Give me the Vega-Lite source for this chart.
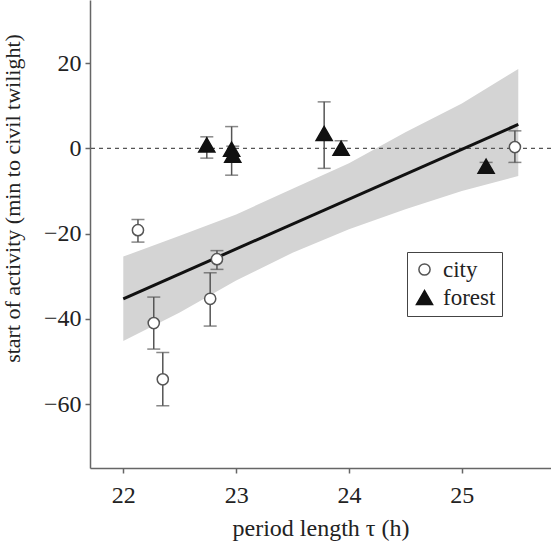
{
  "$schema": "https://vega.github.io/schema/vega-lite/v6.json",
  "autosize": {"type": "none"},
  "padding": {"left": 90, "top": 0, "right": 0, "bottom": 74},
  "width": 461,
  "height": 468,
  "background": "white",
  "config": {
    "view": {"stroke": null},
    "font": "Liberation Serif",
    "axis": {
      "labelFont": "Liberation Serif",
      "titleFont": "Liberation Serif",
      "labelFontSize": 24,
      "titleFontSize": 23,
      "titleFontWeight": "normal",
      "labelColor": "#222",
      "titleColor": "#222",
      "domainColor": "#666",
      "domainWidth": 1.5,
      "tickColor": "#666",
      "tickWidth": 1.5,
      "tickSize": 5,
      "grid": false
    }
  },
  "datasets": {
    "pts": [
      {"group": "city", "x": 22.13, "y": -19.2, "lo": -22.0, "hi": -16.7},
      {"group": "city", "x": 22.27, "y": -41.0, "lo": -47.1, "hi": -34.9},
      {"group": "city", "x": 22.35, "y": -54.2, "lo": -60.4, "hi": -47.9},
      {"group": "city", "x": 22.77, "y": -35.3, "lo": -41.7, "hi": -29.2},
      {"group": "city", "x": 22.83, "y": -26.0, "lo": -28.4, "hi": -24.0},
      {"group": "city", "x": 25.47, "y": 0.3, "lo": -3.3, "hi": 4.1},
      {"group": "forest", "x": 22.74, "y": 0.8, "lo": -2.3, "hi": 2.7},
      {"group": "forest", "x": 22.96, "y": -0.2, "lo": -6.3, "hi": 5.1},
      {"group": "forest", "x": 22.97, "y": -1.6, "lo": -3.1, "hi": 0.5},
      {"group": "forest", "x": 23.78, "y": 3.5, "lo": -4.7, "hi": 10.9},
      {"group": "forest", "x": 23.93, "y": 0.0, "lo": -1.5, "hi": 1.8},
      {"group": "forest", "x": 25.215, "y": -4.2, "lo": -5.0, "hi": -3.3}
    ],
    "band": [
      {"x": 22.0, "lo": -45.2, "hi": -25.4},
      {"x": 22.5, "lo": -38.5, "hi": -20.5},
      {"x": 23.0, "lo": -31.0, "hi": -15.5},
      {"x": 23.5, "lo": -24.5, "hi": -9.5},
      {"x": 24.0, "lo": -19.0, "hi": -3.5},
      {"x": 24.5, "lo": -14.3, "hi": 3.8},
      {"x": 25.0, "lo": -10.0, "hi": 10.5},
      {"x": 25.5, "lo": -6.5, "hi": 18.6}
    ],
    "fit": [
      {"x": 22.0, "y": -35.3},
      {"x": 25.5, "y": 5.6}
    ]
  },
  "layer": [
    {
      "data": {"name": "band"},
      "mark": {"type": "area", "color": "#d4d4d4", "opacity": 1},
      "encoding": {
        "x": {"field": "x", "type": "quantitative", "scale": {"domain": [21.705, 25.79], "nice": false, "zero": false},
          "axis": {"values": [22, 23, 24, 25], "format": "d", "title": "period length τ (h)", "titleFontSize": 24, "labelFont": "Liberation Serif", "labelPadding": 10, "titleY": 60, "titleBaseline": "middle"}},
        "y": {"field": "lo", "type": "quantitative", "scale": {"domain": [-75, 34.8], "nice": false, "zero": false},
          "axis": {"values": [-60, -40, -20, 0, 20], "format": "d", "title": "start of activity (min to civil twilight)", "titleFontSize": 22, "labelFont": "Liberation Serif", "labelPadding": 4, "titleX": -78, "titleY": 198, "titleAngle": -90, "titleBaseline": "middle", "titleAlign": "center"}},
        "y2": {"field": "hi"}
      }
    },
    {
      "data": {"values": [{"v": 0}]},
      "mark": {"type": "rule", "color": "#555", "strokeDash": [4, 4], "strokeWidth": 1.2},
      "encoding": {"y": {"field": "v", "type": "quantitative"}}
    },
    {
      "data": {"name": "fit"},
      "mark": {"type": "line", "color": "#111", "strokeWidth": 3},
      "encoding": {
        "x": {"field": "x", "type": "quantitative"},
        "y": {"field": "y", "type": "quantitative"}
      }
    },
    {
      "data": {"name": "pts"},
      "mark": {"type": "rule", "color": "#555", "strokeWidth": 1.5},
      "encoding": {
        "x": {"field": "x", "type": "quantitative"},
        "y": {"field": "lo", "type": "quantitative"},
        "y2": {"field": "hi"}
      }
    },
    {
      "data": {"name": "pts"},
      "mark": {"type": "tick", "orient": "horizontal", "color": "#555", "size": 13, "thickness": 1.5},
      "encoding": {
        "x": {"field": "x", "type": "quantitative"},
        "y": {"field": "lo", "type": "quantitative"}
      }
    },
    {
      "data": {"name": "pts"},
      "mark": {"type": "tick", "orient": "horizontal", "color": "#555", "size": 13, "thickness": 1.5},
      "encoding": {
        "x": {"field": "x", "type": "quantitative"},
        "y": {"field": "hi", "type": "quantitative"}
      }
    },
    {
      "data": {"name": "pts"},
      "mark": {"type": "point", "filled": true, "opacity": 1, "strokeWidth": 1.5},
      "encoding": {
        "x": {"field": "x", "type": "quantitative"},
        "y": {"field": "y", "type": "quantitative"},
        "shape": {"field": "group", "type": "nominal",
          "scale": {"domain": ["city", "forest"], "range": ["circle", "triangle-up"]},
          "legend": {"title": null, "orient": "none", "legendX": 317, "legendY": 252,
            "strokeColor": "#444", "padding": 6, "labelFont": "Liberation Serif", "labelFontSize": 23,
            "labelColor": "#222", "rowPadding": 4, "labelOffset": 7, "symbolStrokeWidth": 1.5}},
        "fill": {"field": "group", "type": "nominal", "scale": {"domain": ["city", "forest"], "range": ["white", "#111"]}},
        "stroke": {"field": "group", "type": "nominal", "scale": {"domain": ["city", "forest"], "range": ["#555", "#111"]}},
        "size": {"field": "group", "type": "nominal", "scale": {"domain": ["city", "forest"], "range": [125, 260]}}
      }
    }
  ]
}
